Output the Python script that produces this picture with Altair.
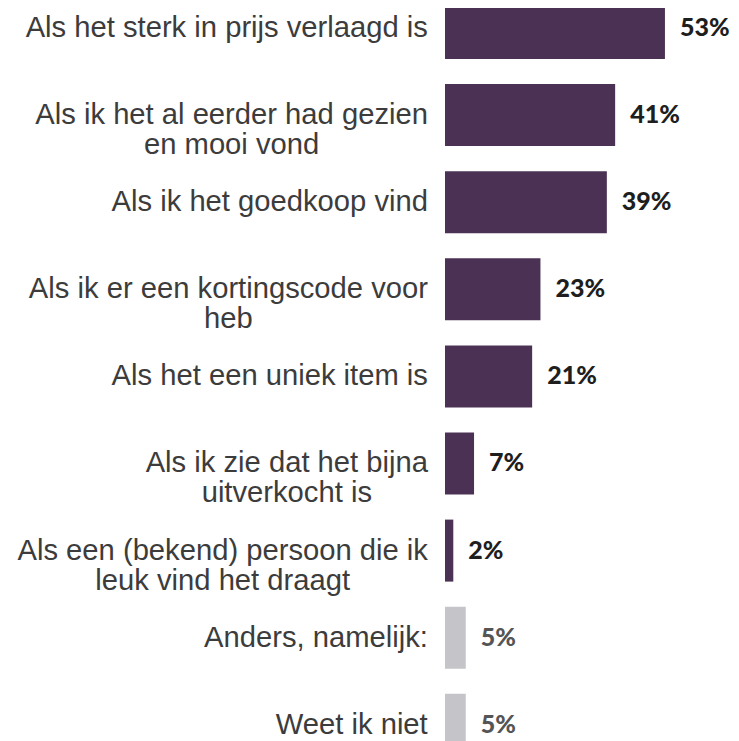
import altair as alt
import pandas as pd

# ---- data ----
label_lines = [
    ["Als het sterk in prijs verlaagd is"],
    ["Als ik het al eerder had gezien", "en mooi vond"],
    ["Als ik het goedkoop vind"],
    ["Als ik er een kortingscode voor", "heb"],
    ["Als het een uniek item is"],
    ["Als ik zie dat het bijna", "uitverkocht is"],
    ["Als een (bekend) persoon die ik", "leuk vind het draagt"],
    ["Anders, namelijk:"],
    ["Weet ik niet"],
]
values = [53, 41, 39, 23, 21, 7, 2, 5, 5]
groups = ["main", "main", "main", "main", "main", "main", "main", "other", "other"]

# ---- label width estimate (Arial / Liberation Sans metrics) for centred multi-line labels ----
ARIAL = {" ": 278, "A": 667, "W": 944, "a": 556, "b": 556, "c": 500, "d": 556, "e": 556,
         "f": 278, "g": 556, "h": 556, "i": 222, "j": 222, "k": 500, "l": 222, "m": 833,
         "n": 556, "o": 556, "p": 556, "q": 556, "r": 333, "s": 500, "t": 278, "u": 556,
         "v": 500, "w": 722, "x": 500, "y": 500, "z": 500, "(": 333, ")": 333, ",": 278,
         ":": 278}
FS = 29.2
GAP = 17


def text_width(s):
    return sum(ARIAL.get(ch, 556) for ch in s) / 1000 * FS


keys = [" ".join(l) for l in label_lines]
df = pd.DataFrame({
    "key": keys,
    "label": ["\n".join(l) for l in label_lines],
    "value": values,
    "group": groups,
    "vlabel": [f"{v}%" for v in values],
    "cx": [-GAP - max(text_width(s) for s in l) / 2 for l in label_lines],
})

yenc = alt.Y("key:N", sort=keys, axis=None,
             scale=alt.Scale(paddingInner=0.288, paddingOuter=0, range=[-11, 747.8]))

base = alt.Chart(df)

bars = base.mark_bar().encode(
    x=alt.X("value:Q", axis=None, scale=alt.Scale(domain=[0, 60], nice=False, zero=True)),
    y=yenc,
    color=alt.Color("group:N", legend=None,
                    scale=alt.Scale(domain=["main", "other"], range=["#4B3254", "#C5C4C9"])),
)

vals = base.mark_text(align="left", baseline="middle", dx=15, font="Lato",
                      fontWeight=900, fontSize=25).encode(
    x=alt.X("value:Q"),
    y=yenc,
    text="vlabel:N",
    color=alt.Color("group:N", legend=None,
                    scale=alt.Scale(domain=["main", "other"], range=["#1E1E1E", "#555555"])),
)

labels = base.mark_text(align="center", baseline="middle", lineBreak="\n", lineHeight=30,
                        font="Liberation Sans", fontSize=FS, color="#3C3C3C").encode(
    x=alt.X("cx:Q", scale=None),
    y=yenc,
    text="label:N",
)

chart = alt.layer(bars, vals, labels).resolve_scale(color="independent").properties(
    width=249,
    height=741,
    autosize=alt.AutoSizeParams(type="none"),
    padding={"top": 0, "left": 437, "right": 37, "bottom": 0},
).configure_view(stroke=None)

chart.save("out.html", embed_options={"renderer": "svg", "actions": False})
